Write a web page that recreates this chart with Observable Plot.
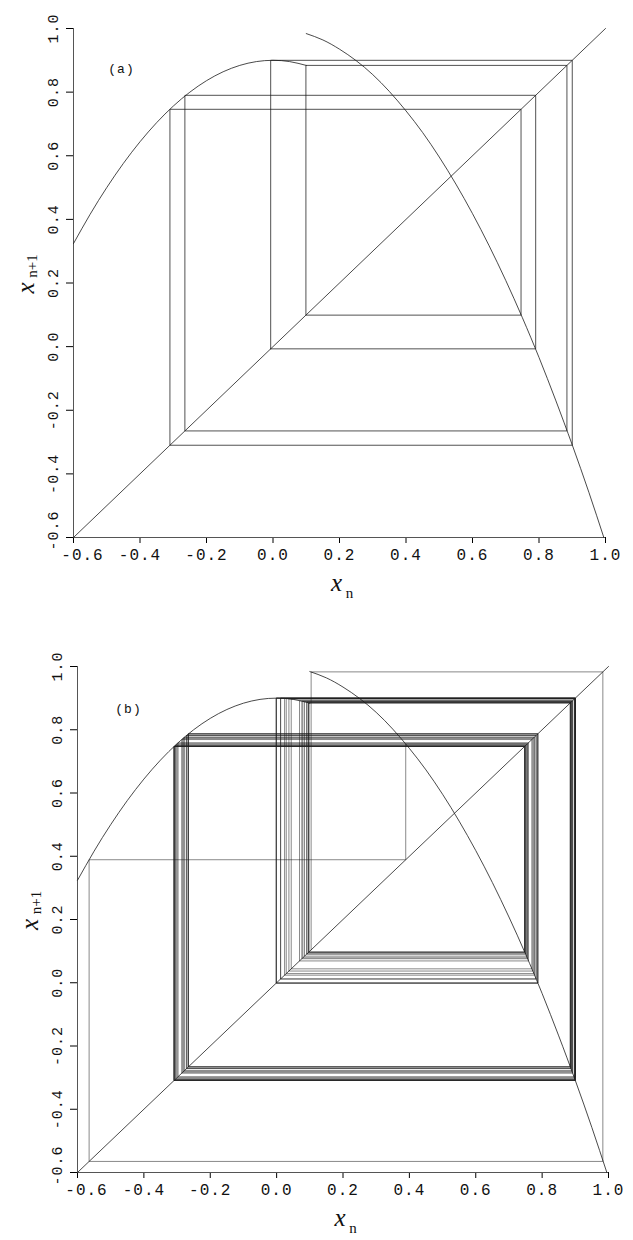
<!DOCTYPE html>
<html>
<head>
<meta charset="utf-8">
<script src="https://cdn.jsdelivr.net/npm/d3@7"></script>
<script src="https://cdn.jsdelivr.net/npm/@observablehq/plot@0.6"></script>
<style>
  html, body { margin: 0; padding: 0; background: #fff; }
  #chart { width: 633px; }
  #chart svg { display: block; }
  #chart g[font-family*="Liberation Mono"] text { letter-spacing: 1px; }
</style>
</head>
<body>
<div id="chart"></div>
<script>
// Axis domain and tick values (same for both panels)
const axisMin = -0.6;
const axisMax = 1.0;
const tickValues = [-0.6, -0.4, -0.2, 0.0, 0.2, 0.4, 0.6, 0.8, 1.0];

// Map graph, left branch (x < 0.1)
const leftX = [-0.6, -0.55, -0.5, -0.45, -0.4, -0.35, -0.3, -0.25, -0.2, -0.15, -0.1, -0.05, 0.0, 0.05, 0.1];
const leftY = [0.324, 0.416, 0.500, 0.576, 0.644, 0.704, 0.756, 0.800, 0.836, 0.864, 0.884, 0.896, 0.900, 0.896, 0.884];

// Map graph, right branch (x >= 0.1)
const rightX = [0.1, 0.15, 0.2, 0.25, 0.3, 0.35, 0.4, 0.45, 0.5, 0.55, 0.6, 0.65, 0.7, 0.75, 0.8, 0.85, 0.9, 0.95, 0.995];
const rightY = [0.984, 0.964, 0.935, 0.899, 0.855, 0.802, 0.741, 0.673, 0.596, 0.511, 0.418, 0.317, 0.208, 0.091, -0.034, -0.168, -0.309, -0.458, -0.600];

// (a) period-8 orbit (closed loop)
const orbitA = [-0.007, 0.900, -0.310, 0.746, 0.099, 0.884, -0.265, 0.790];

// (b) long orbit: transient, then banded motion around the 8-cycle
const orbitB = [
  0.104, 0.983, -0.565, 0.389, 0.755,
  0.079, 0.890, -0.280, 0.775,
  0.029, 0.899, -0.306, 0.750, 0.091, 0.887, -0.271, 0.782,
  0.012, 0.900, -0.309, 0.747, 0.096, 0.885, -0.266, 0.787,
  -0.001, 0.900, -0.309, 0.747, 0.098, 0.885, -0.266, 0.787,
  -0.001, 0.900, -0.297, 0.759, 0.069, 0.892, -0.286, 0.769,
  0.044, 0.897, -0.300, 0.756, 0.076, 0.891, -0.283, 0.772,
  0.037, 0.898, -0.303, 0.753, 0.084, 0.889, -0.277, 0.777,
  0.024, 0.899, -0.306, 0.750, 0.091, 0.887, -0.271, 0.782,
  0.012, 0.900, -0.309, 0.747, 0.096, 0.885, -0.266, 0.787,
  -0.001, 0.900, -0.309, 0.747
];

const panelTags = ["(a)", "(b)"];

// Cobweb path: vertical from (x_n, x_n) to (x_n, x_{n+1}), then horizontal to the diagonal
function cobweb(orbit, closed) {
  const seq = closed ? orbit.concat([orbit[0]]) : orbit;
  const pts = [{x: seq[0], y: seq[0]}];
  for (let i = 0; i + 1 < seq.length; i++) {
    pts.push({x: seq[i], y: seq[i + 1]});
    pts.push({x: seq[i + 1], y: seq[i + 1]});
  }
  return pts;
}

const ink = "#1c1c1c";
const mono = "'Liberation Mono', 'DejaVu Sans Mono', monospace";
const serif = "'Liberation Serif', 'DejaVu Serif', serif";

function panel({tag, orbit, closed, webWidth, webOpacity, m, tagDx, tagDy}) {
  const left = leftX.map((x, i) => ({x, y: leftY[i]}));
  const right = rightX.map((x, i) => ({x, y: rightY[i]}));
  const diag = [{x: axisMin, y: axisMin}, {x: axisMax, y: axisMax}];
  const innerTicks = tickValues.filter(d => d !== axisMin);
  return Plot.plot({
    width: 633,
    height: 620,
    marginTop: m.top,
    marginRight: m.right,
    marginBottom: m.bottom,
    marginLeft: m.left,
    style: {background: "#fff", fontFamily: mono, overflow: "visible"},
    x: {domain: [axisMin, axisMax], ticks: tickValues, tickSize: 6, tickFormat: () => "", label: null},
    y: {domain: [axisMin, axisMax], ticks: tickValues, tickSize: 7, tickFormat: () => "", label: null},
    marks: [
      Plot.ruleY([axisMin], {stroke: "#555", strokeWidth: 1}),
      Plot.ruleX([axisMin], {stroke: "#555", strokeWidth: 1}),
      Plot.line(diag, {x: "x", y: "y", stroke: ink, strokeWidth: 0.8}),
      Plot.line(left, {x: "x", y: "y", curve: "natural", stroke: ink, strokeWidth: 0.8}),
      Plot.line(right, {x: "x", y: "y", curve: "natural", stroke: ink, strokeWidth: 0.8}),
      Plot.line(cobweb(orbit, closed), {x: "x", y: "y", stroke: ink, strokeWidth: webWidth, strokeOpacity: webOpacity}),
      // x tick labels
      Plot.text(innerTicks, {x: d => d, text: d => d.toFixed(1), frameAnchor: "bottom", dy: 22,
        fontFamily: mono, fontSize: 16, fill: "#111", textAnchor: "middle"}),
      Plot.text([axisMin], {x: d => d, text: d => d.toFixed(1), frameAnchor: "bottom", dy: 22, dx: 9,
        fontFamily: mono, fontSize: 16, fill: "#111", textAnchor: "middle"}),
      // y tick labels (rotated)
      Plot.text(innerTicks, {y: d => d, text: d => d.toFixed(1), frameAnchor: "left", dx: -20,
        rotate: -90, fontFamily: mono, fontSize: 15, fill: "#111", textAnchor: "middle"}),
      Plot.text([axisMin], {y: d => d, text: d => d.toFixed(1), frameAnchor: "left", dx: -20, dy: -7,
        rotate: -90, fontFamily: mono, fontSize: 15, fill: "#111", textAnchor: "middle"}),
      // panel tag
      Plot.text([tag], {text: d => d, frameAnchor: "top-left", dx: tagDx, dy: tagDy,
        fontFamily: mono, fontSize: 13, fill: "#111", textAnchor: "middle"}),
      // x-axis title: x_n
      Plot.text(["x"], {text: d => d, frameAnchor: "bottom", dx: -3, dy: 53,
        fontFamily: serif, fontStyle: "italic", fontSize: 25, fill: "#111", textAnchor: "middle"}),
      Plot.text(["n"], {text: d => d, frameAnchor: "bottom", dx: 10, dy: 60,
        fontFamily: serif, fontSize: 15, fill: "#111", textAnchor: "middle"}),
      // y-axis title: x_{n+1} (rotated)
      Plot.text(["x"], {text: d => d, frameAnchor: "left", dx: -48, dy: 5, rotate: -90,
        fontFamily: serif, fontStyle: "italic", fontSize: 25, fill: "#111", textAnchor: "middle"}),
      Plot.text(["n+1"], {text: d => d, frameAnchor: "left", dx: -41, dy: -17, rotate: -90,
        fontFamily: serif, fontSize: 15, fill: "#111", textAnchor: "middle"})
    ]
  });
}

const chart = document.getElementById("chart");
chart.appendChild(panel({
  tag: panelTags[0], orbit: orbitA, closed: true, webWidth: 0.85, webOpacity: 0.9,
  m: {top: 28, right: 28, bottom: 83, left: 73}, tagDx: 48, tagDy: 35
}));
chart.appendChild(panel({
  tag: panelTags[1], orbit: orbitB, closed: false, webWidth: 0.7, webOpacity: 0.75,
  m: {top: 46, right: 25, bottom: 68, left: 77}, tagDx: 51, tagDy: 37
}));
</script>
</body>
</html>
